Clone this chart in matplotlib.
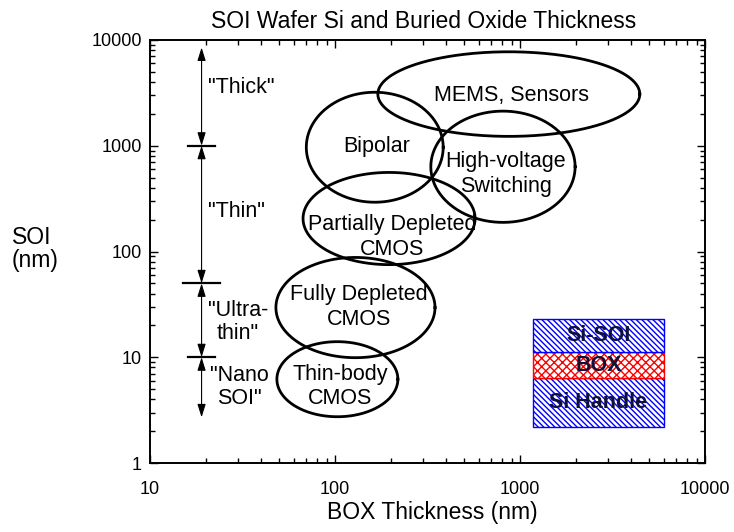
import numpy as np
import matplotlib
matplotlib.use("Agg")
import matplotlib.pyplot as plt
from matplotlib.patches import Rectangle
from matplotlib.ticker import FixedLocator, FixedFormatter, LogLocator, NullFormatter

plt.rcParams['font.family'] = ['Liberation Sans', 'DejaVu Sans']

# application regions: centre (BOX nm, SOI nm) and half-extent in decades
regiones = ['MEMS, Sensors', 'Bipolar', 'High-voltage\nSwitching',
            'Partially Depleted\nCMOS', 'Fully Depleted\nCMOS', 'Thin-body\nCMOS']
box_centro = [870, 164, 809, 196, 129, 103]
soi_centro = [3080, 968, 633, 205, 29.5, 6.2]
box_semieje = [0.708, 0.37, 0.39, 0.465, 0.43, 0.327]
soi_semieje = [0.40, 0.52, 0.526, 0.436, 0.474, 0.355]
etiqueta_box = [900, 168, 840, 203, 135, 107]
etiqueta_soi = [3000, 990, 540, 137, 30, 5.3]

# SOI thickness classes along the left edge
limites_soi = [8500, 1000, 50, 10, 2.7]
clases = ['"Thick"', '"Thin"', '"Ultra-\nthin"', '"Nano\nSOI"']
clase_x = [20.6, 20.6, 29.9, 30.6]
clase_y = [3580, 239, 21.5, 5.2]
clase_ha = ['left', 'left', 'center', 'center']
x_flechas = 19

ticks_x = [10, 100, 1000, 10000]
ticks_y = [1, 10, 100, 1000, 10000]

fig = plt.figure(figsize=(7.34, 5.32), dpi=100)
ax = fig.add_axes([150 / 734, 1 - 463 / 532, 555 / 734, 423 / 532])
ax.set_xscale('log')
ax.set_yscale('log')
ax.set_xlim(10, 10000)
ax.set_ylim(1, 10000)

# ellipses drawn in log space
t = np.linspace(0, 2 * np.pi, 400)
for nombre, cx, cy, a, b, lx, ly in zip(regiones, box_centro, soi_centro,
                                        box_semieje, soi_semieje,
                                        etiqueta_box, etiqueta_soi):
    ax.plot(cx * 10 ** (a * np.cos(t)), cy * 10 ** (b * np.sin(t)),
            color='black', lw=2.0)
    ax.text(lx, ly, nombre, ha='center', va='center', fontsize=15.5,
            linespacing=1.22)

# double-headed arrows between class limits
for y0, y1 in zip(limites_soi[:-1], limites_soi[1:]):
    ax.annotate('', xy=(x_flechas, y1), xytext=(x_flechas, y0),
                arrowprops=dict(arrowstyle='<|-|>,head_length=0.8,head_width=0.25',
                                color='black', lw=0.8, shrinkA=0, shrinkB=0,
                                mutation_scale=10))
# short horizontal bars at the inner limits
for y, ancho in zip(limites_soi[1:-1], [0.075, 0.1, 0.075]):
    ax.plot([x_flechas * 10 ** -ancho, x_flechas * 10 ** ancho], [y, y],
            color='black', lw=1.6)

for txt, x, y, ha in zip(clases, clase_x, clase_y, clase_ha):
    ax.text(x, y, txt, ha=ha, va='center', fontsize=15.5, linespacing=1.12)

# wafer cross-section schematic
capas = [(0.085, 0.201, 'blue', '\\' * 6, 'Si Handle'),
         (0.201, 0.262, 'red', 'xxxx', 'BOX'),
         (0.262, 0.340, 'blue', '\\' * 6, 'Si-SOI')]
for y0, y1, col, hatch, txt in capas:
    ax.add_patch(Rectangle((0.690, y0), 0.236, y1 - y0, transform=ax.transAxes,
                           facecolor='white', edgecolor=col, hatch=hatch, lw=1.0))
    ax.text(0.808, (y0 + y1) / 2, txt, transform=ax.transAxes, ha='center',
            va='center', fontsize=15.5, fontweight='bold', color='#10103a')

ax.xaxis.set_major_locator(FixedLocator(ticks_x))
ax.xaxis.set_major_formatter(FixedFormatter([str(v) for v in ticks_x]))
ax.yaxis.set_major_locator(FixedLocator(ticks_y))
ax.yaxis.set_major_formatter(FixedFormatter([str(v) for v in ticks_y]))
ax.xaxis.set_minor_locator(LogLocator(base=10, subs=np.arange(2, 10)))
ax.yaxis.set_minor_locator(LogLocator(base=10, subs=np.arange(2, 10)))
ax.xaxis.set_minor_formatter(NullFormatter())
ax.yaxis.set_minor_formatter(NullFormatter())
ax.tick_params(which='both', direction='in', top=True, right=True,
               labelsize=13, width=1.0)
ax.tick_params(which='major', length=6)
ax.tick_params(which='minor', length=3.5)
ax.tick_params(axis='x', which='major', pad=13)
ax.tick_params(axis='y', which='major', pad=6)
for s in ax.spines.values():
    s.set_linewidth(1.4)

fig.text(424 / 734, 1 - 21 / 532, 'SOI Wafer Si and Buried Oxide Thickness',
         ha='center', va='center', fontsize=16.5)
fig.text(432 / 734, 1 - 513 / 532, 'BOX Thickness (nm)',
         ha='center', va='center', fontsize=16.5)
fig.text(12 / 734, 1 - 249 / 532, 'SOI\n(nm)', ha='left', va='center',
         fontsize=16.5, linespacing=1.0)

fig.savefig('out.png', dpi=100)
